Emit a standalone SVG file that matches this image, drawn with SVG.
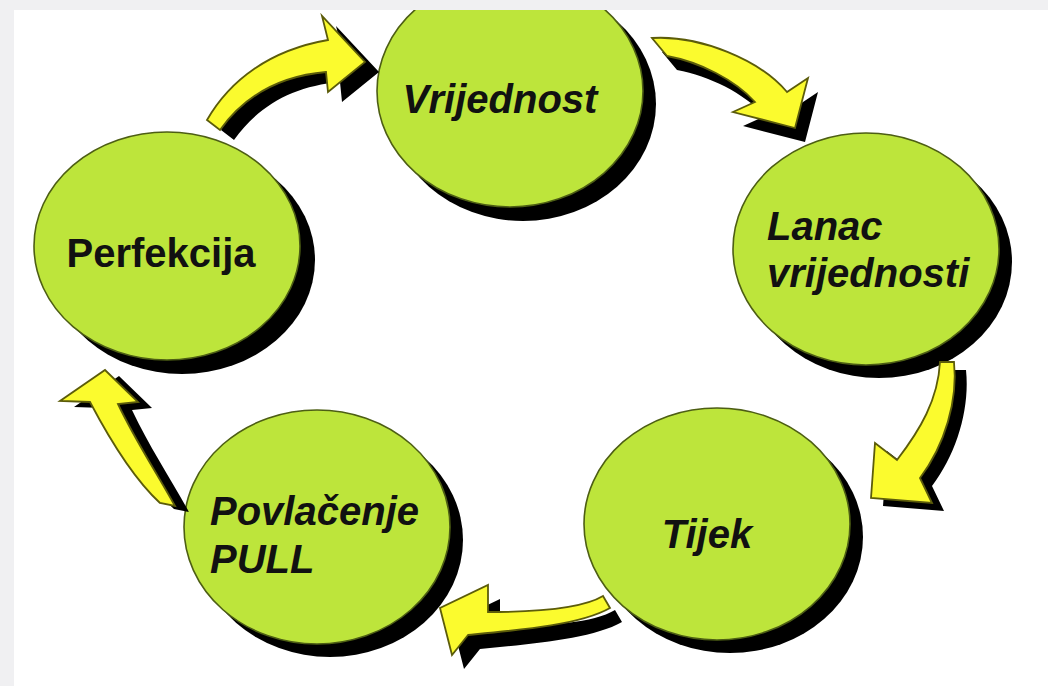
<svg xmlns="http://www.w3.org/2000/svg" width="1048" height="686" viewBox="0 0 1048 686">
<style>
.bg{fill:#ffffff}
.frame{fill:#f0f0f2}
.sh{fill:#000000}
.node{fill:#bde53b;stroke:#4d5e14;stroke-width:1.6}
.lbl{font-family:"Liberation Sans",Arial,sans-serif;font-weight:bold;font-size:40px;fill:#111111}
.it{font-style:italic}
.arr{fill:#fbfb2e;stroke:#5c5c0a;stroke-width:1.8;stroke-linejoin:miter}
.ash{fill:#000000}
</style>
<rect class="bg" x="0" y="0" width="1048" height="686"/>

<g id="node-vrijednost">
<ellipse class="sh" cx="523" cy="104" rx="133" ry="117"/>
<ellipse class="node" cx="510" cy="91" rx="133" ry="116"/>
<text class="lbl it" x="500" y="113" text-anchor="middle">Vrijednost</text>
</g>

<g id="node-lanac">
<ellipse class="sh" cx="879" cy="262" rx="133" ry="116"/>
<ellipse class="node" cx="866" cy="249" rx="133" ry="116"/>
<text class="lbl it" x="767" y="240">Lanac</text>
<text class="lbl it" x="767" y="287">vrijednosti</text>
</g>

<g id="node-tijek">
<ellipse class="sh" cx="730" cy="537" rx="133" ry="116"/>
<ellipse class="node" cx="717" cy="524" rx="133" ry="116"/>
<text class="lbl it" x="707" y="548" text-anchor="middle">Tijek</text>
</g>

<g id="node-povlacenje">
<ellipse class="sh" cx="330" cy="540" rx="133" ry="117"/>
<ellipse class="node" cx="317" cy="527" rx="133" ry="117"/>
<text class="lbl it" x="210" y="525">Povlačenje</text>
<text class="lbl it" x="210" y="573">PULL</text>
</g>

<g id="node-perfekcija">
<ellipse class="sh" cx="182" cy="260" rx="133" ry="114"/>
<ellipse class="node" cx="167" cy="246" rx="133" ry="114"/>
<text class="lbl" x="161" y="267" text-anchor="middle">Perfekcija</text>
</g>

<g id="connectors">
<!-- Perfekcija -> Vrijednost -->
<g transform="translate(14,10)"><path class="ash" d="M207,120 C230,80 270,50 328,40 L322,16 L365,62 L328,92 L326,72 C280,76 245,95 220,130 Z"/></g>
<path class="arr" d="M207,120 C230,80 270,50 328,40 L322,16 L365,62 L328,92 L326,72 C280,76 245,95 220,130 Z"/>
<!-- Vrijednost -> Lanac -->
<g transform="translate(10,14)"><path class="ash" d="M652,38 C700,35 760,60 787,92 L808,78 L795,128 L733,112 L755,102 C735,80 700,62 667,56 Z"/></g>
<path class="arr" d="M652,38 C700,35 760,60 787,92 L808,78 L795,128 L733,112 L755,102 C735,80 700,62 667,56 Z"/>
<!-- Lanac -> Tijek -->
<g transform="translate(12,8)"><path class="ash" d="M940,362 L954,362 C958,400 945,445 920,478 L932,503 L871,498 L875,443 L897,460 C920,430 938,400 940,362 Z"/></g>
<path class="arr" d="M940,362 L954,362 C958,400 945,445 920,478 L932,503 L871,498 L875,443 L897,460 C920,430 938,400 940,362 Z"/>
<!-- Tijek -> Povlacenje -->
<g transform="translate(12,14)"><path class="ash" d="M603,596 C580,610 530,612 488,612 L488,585 L440,608 L452,655 L468,635 C520,630 580,625 610,608 Z"/></g>
<path class="arr" d="M603,596 C580,610 530,612 488,612 L488,585 L440,608 L452,655 L468,635 C520,630 580,625 610,608 Z"/>
<!-- Povlacenje -> Perfekcija -->
<g transform="translate(14,6)"><path class="ash" d="M160,503 C135,480 110,440 90,402 L60,401 L105,370 L138,402 L118,404 C135,440 155,470 175,506 Z"/></g>
<path class="arr" d="M160,503 C135,480 110,440 90,402 L60,401 L105,370 L138,402 L118,404 C135,440 155,470 175,506 Z"/>
</g>

<rect class="frame" x="0" y="0" width="1048" height="10"/>
<rect class="frame" x="0" y="0" width="14" height="686"/>
</svg>
